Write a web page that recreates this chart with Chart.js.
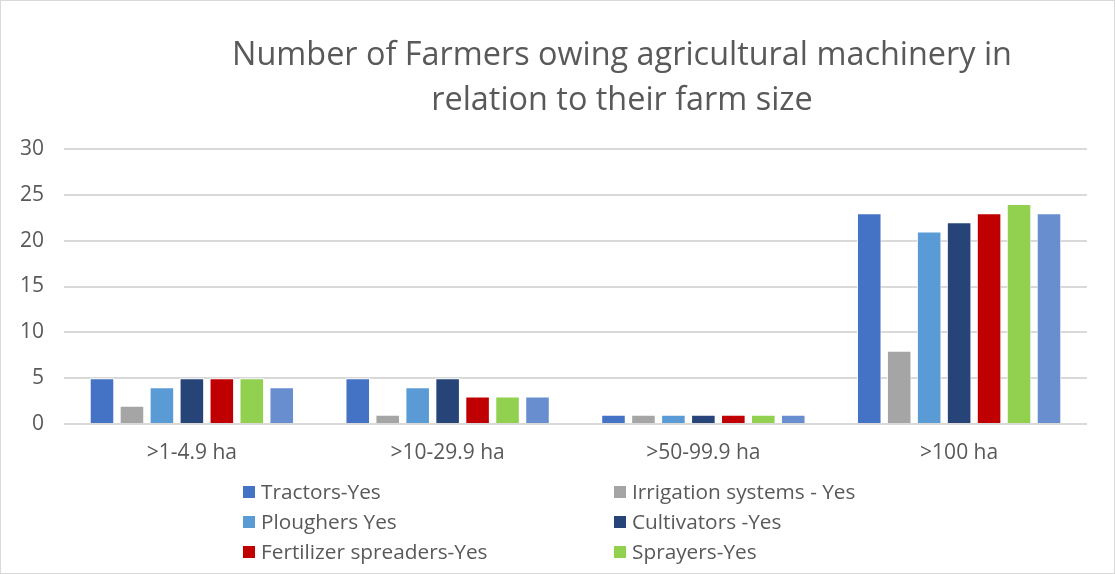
<!DOCTYPE html>
<html>
<head>
<meta charset="utf-8">
<script src="https://cdn.jsdelivr.net/npm/chart.js@4/dist/chart.umd.min.js"></script>
<style>
  html, body { margin: 0; padding: 0; background: #fff; }
  .wrap { width: 1115px; height: 574px; position: relative; box-sizing: border-box; border: 1px solid #d9d9d9; }
  canvas { display: block; }
</style>
</head>
<body>
<div class="wrap"><canvas id="chart" width="1113" height="572"></canvas></div>
<script>
const farmSizes = [">1-4.9 ha", ">10-29.9 ha", ">50-99.9 ha", ">100 ha"];
const seriesNames = ["Tractors-Yes", "Irrigation systems - Yes", "Ploughers Yes", "Cultivators -Yes", "Fertilizer spreaders-Yes", "Sprayers-Yes", "Harvesters-Yes"];
const tractors = [5, 5, 1, 23];
const irrigation = [2, 1, 1, 8];
const ploughers = [4, 4, 1, 21];
const cultivators = [5, 5, 1, 22];
const fertSpreaders = [5, 3, 1, 23];
const sprayers = [5, 3, 1, 24];
const harvesters = [4, 3, 1, 23];
const yTicks = [0, 5, 10, 15, 20, 25, 30];
const titleLines = ["Number of Farmers owing agricultural machinery in", "relation to their farm size"];

const colors = ["#4472C4", "#A5A5A5", "#5B9BD5", "#264478", "#C00000", "#92D050", "#698ED0"];
const allData = [tractors, irrigation, ploughers, cultivators, fertSpreaders, sprayers, harvesters];
const FONT = "'Open Sans', Lato, sans-serif";
const TXT = "#595959";

// title + legend drawn by hand so they sit where Excel put them
const decor = {
    id: "decor",
    afterDraw(c) {
        const ctx = c.ctx;
        ctx.save();
        ctx.fillStyle = TXT;
        ctx.font = "32.4px " + FONT;
        ctx.textAlign = "center";
        ctx.textBaseline = "middle";
        ctx.fillText(titleLines[0], 621, 55);
        ctx.fillText(titleLines[1], 621, 100);

        ctx.font = "20.8px " + FONT;
        ctx.textAlign = "left";
        seriesNames.forEach((name, i) => {
            const col = i % 2, row = Math.floor(i / 2);
            const x = col == 0 ? 242 : 613;
            const y = 491 + row * 30;
            ctx.fillStyle = colors[i];
            ctx.fillRect(x, y - 6, 12, 12);
            ctx.fillStyle = TXT;
            ctx.fillText(name, x + 18, y + 1);
        });
        ctx.restore();
    }
};

new Chart(document.getElementById("chart").getContext("2d"), {
    type: "bar",
    data: {
        labels: farmSizes,
        datasets: seriesNames.map((name, i) => ({
            label: name,
            data: allData[i],
            backgroundColor: colors[i],
            borderColor: "#ffffff",
            borderWidth: 1,
            categoryPercentage: 0.82,
            barPercentage: 0.82
        }))
    },
    options: {
        responsive: false,
        animation: false,
        layout: { padding: { top: 148, right: 27, left: 0, bottom: 0 } },
        plugins: {
            legend: { display: false },
            title: { display: false },
            tooltip: { enabled: false }
        },
        scales: {
            x: {
                grid: { display: false, drawTicks: false },
                border: { display: false },
                ticks: { color: TXT, font: { family: FONT, size: 21 }, padding: 16 },
                afterFit: s => { s.height = 149; }
            },
            y: {
                min: 0,
                max: 30,
                afterBuildTicks: s => { s.ticks = yTicks.map(v => ({ value: v })); },
                grid: { color: "#d9d9d9", lineWidth: 2, drawTicks: false },
                border: { display: false },
                ticks: { color: TXT, font: { family: FONT, size: 21 }, padding: 20 },
                afterFit: s => { s.width = 63; }
            }
        }
    },
    plugins: [decor]
});
</script>
</body>
</html>
